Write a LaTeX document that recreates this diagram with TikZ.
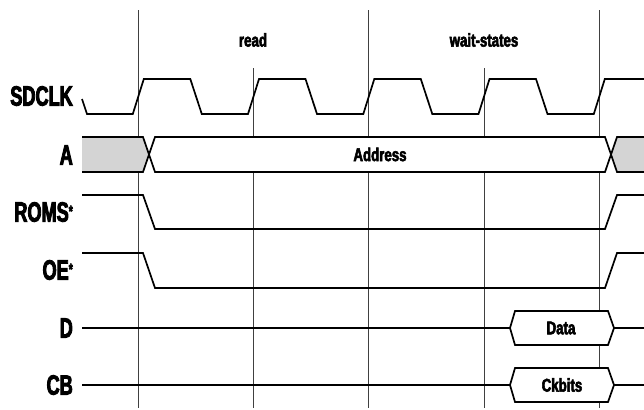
\documentclass[tikz,border=0pt]{standalone}
\usepackage{fontspec}
\newfontfamily\lblfont[FakeStretch=0.65,BoldFeatures={FakeBold=3}]{Liberation Sans}
\newfontfamily\txtfont[FakeStretch=0.72,BoldFeatures={FakeBold=3}]{Liberation Sans}
\newcommand{\smallstar}{{\fontsize{16}{16}\selectfont\raisebox{5bp}{*}}}
\begin{document}
\begin{tikzpicture}[x=1bp,y=-1bp,
  grid/.style={draw=black!75,line width=0.8bp},
  sig/.style={draw=black,line width=1.7bp,line join=miter},
  busgray/.style={fill=black!17},
  lbl/.style={font=\lblfont\bfseries\fontsize{28}{28}\selectfont,anchor=east,inner sep=0pt},
  txt/.style={font=\txtfont\bfseries\fontsize{18.5}{18.5}\selectfont,inner sep=0pt}
]
\useasboundingbox (0,0) rectangle (644,409);
% grid lines
\foreach \gx in {138.3,368.8,599.3} \draw[grid] (\gx,10) -- (\gx,408);
\foreach \gx in {253.5,484} \draw[grid] (\gx,68) -- (\gx,408);
% phase labels
\node[txt] (read) at (253,40) {read};
\node[txt] (wait) at (484,40) {wait-states};
% signal labels
\node[lbl] (lclk) at (73,96) {SDCLK};
\node[lbl] (la) at (73,155) {A};
\node[lbl] (lroms) at (73,212) {ROMS\smallstar};
\node[lbl] (loe) at (73,270) {OE\smallstar};
\node[lbl] (ld) at (73,328) {D};
\node[lbl] (lcb) at (73,385) {CB};
% clock
\draw[sig] (82,99) -- (87,114)
  \foreach \g in {138.3,253.5,368.8,484} {
    -- (\g-5.5,114) -- (\g+5.5,79) -- (\g+52,79) -- (\g+63.5,114)
  }
  -- (593.8,114) -- (604.8,79) -- (644,79);
% address bus
\fill[busgray] (82,137) -- (143,137) -- (149,154.5) -- (143,172) -- (82,172) -- cycle;
\fill[white] (149,154.5) -- (155,137) -- (605,137) -- (611,154.5) -- (605,172) -- (155,172) -- cycle;
\fill[busgray] (611,154.5) -- (617,137) -- (644,137) -- (644,172) -- (617,172) -- cycle;
\draw[sig] (82,137) -- (143,137) -- (155,172) -- (605,172) -- (617,137) -- (644,137);
\draw[sig] (82,172) -- (143,172) -- (155,137) -- (605,137) -- (617,172) -- (644,172);
\node[txt] (addr) at (380,154.5) {Address};
% ROMS*
\draw[sig] (82,195) -- (143,195) -- (155,229) -- (605,229) -- (617,195) -- (644,195);
% OE*
\draw[sig] (82,253) -- (143,253) -- (155,288) -- (605,288) -- (617,253) -- (644,253);
% D
\draw[sig] (82,328) -- (510,328);
\draw[sig,fill=white] (510,328) -- (515,311) -- (608,311) -- (614,328) -- (608,345) -- (515,345) -- cycle;
\draw[sig] (614,328) -- (644,328);
\node[txt] (data) at (561,328) {Data};
% CB
\draw[sig] (82,385) -- (510,385);
\draw[sig,fill=white] (510,385) -- (515,368) -- (608,368) -- (614,385) -- (608,402) -- (515,402) -- cycle;
\draw[sig] (614,385) -- (644,385);
\node[txt] (ckb) at (562,385) {Ckbits};
\end{tikzpicture}
\end{document}
